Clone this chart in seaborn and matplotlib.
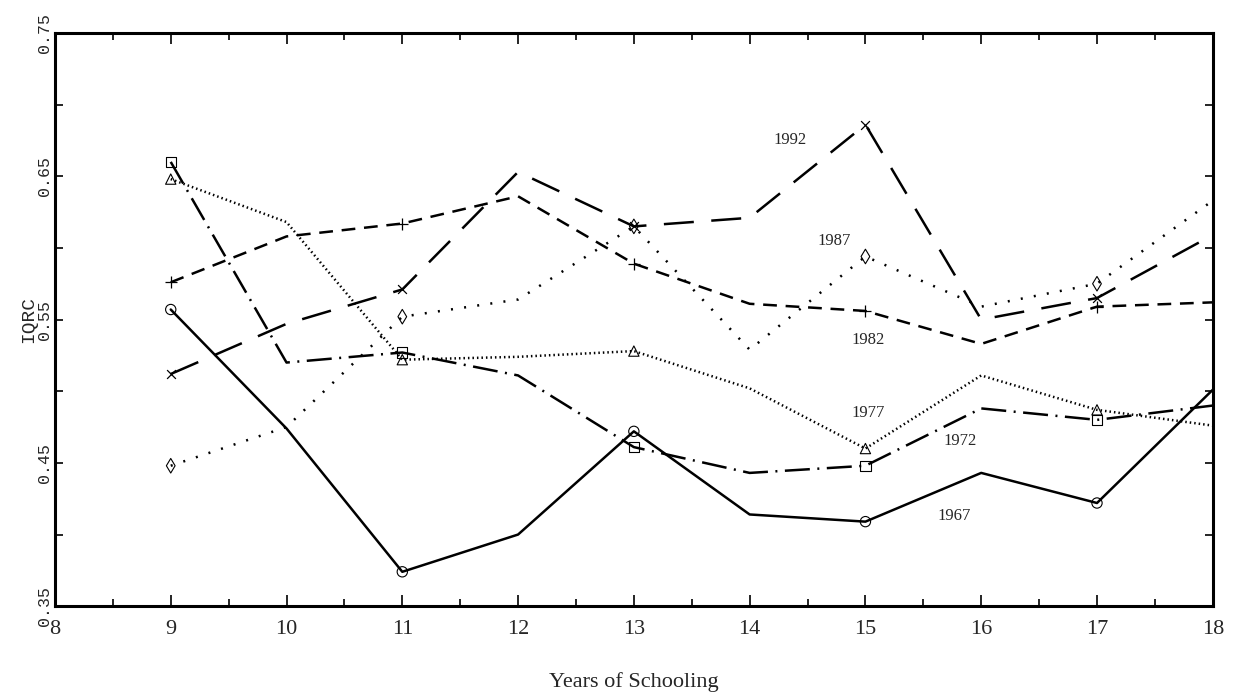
import numpy as np
import pandas as pd
import matplotlib
matplotlib.use("Agg")
import matplotlib.pyplot as plt
import seaborn as sns

# datos
years = [9, 10, 11, 12, 13, 14, 15, 16, 17, 18]
iqrc_1967 = [0.557, 0.474, 0.374, 0.400, 0.472, 0.414, 0.409, 0.443, 0.422, 0.501]
iqrc_1972 = [0.660, 0.520, 0.527, 0.511, 0.461, 0.443, 0.448, 0.488, 0.480, 0.490]
iqrc_1977 = [0.648, 0.618, 0.522, 0.524, 0.528, 0.502, 0.460, 0.511, 0.487, 0.476]
iqrc_1982 = [0.576, 0.608, 0.617, 0.636, 0.589, 0.561, 0.556, 0.533, 0.559, 0.562]
iqrc_1987 = [0.448, 0.475, 0.552, 0.564, 0.615, 0.529, 0.594, 0.559, 0.575, 0.633]
iqrc_1992 = [0.512, 0.547, 0.571, 0.653, 0.615, 0.621, 0.686, 0.550, 0.565, 0.609]

cohorts = ['1967', '1972', '1977', '1982', '1987', '1992']
series = [iqrc_1967, iqrc_1972, iqrc_1977, iqrc_1982, iqrc_1987, iqrc_1992]

# etiquetas dentro del grafico (x, y en datos)
label_pos = {'1992': (14.35, 0.675), '1987': (14.73, 0.605), '1982': (15.02, 0.536),
             '1977': (15.02, 0.485), '1972': (15.82, 0.465), '1967': (15.77, 0.413)}

rows = []
for c, vals in zip(cohorts, series):
    for x, v in zip(years, vals):
        rows.append({'years': x, 'iqrc': v, 'cohort': c})
df = pd.DataFrame(rows)

sns.set_style('ticks')
serif = ['DejaVu Serif Condensed', 'Liberation Serif', 'DejaVu Serif']
mono = ['Liberation Mono', 'DejaVu Sans Mono']

fig = plt.figure(figsize=(12.35, 7), dpi=100)
ax = fig.add_axes([0.0445, 0.134, 0.9375, 0.819])

dash_map = {'1967': '', '1972': (10, 3, 0.8, 3), '1977': (0.6, 1.2),
            '1982': (5.5, 3.5), '1987': (0.8, 4.5), '1992': (12, 7)}
sns.lineplot(data=df, x='years', y='iqrc', style='cohort', dashes=dash_map,
             color='black', linewidth=1.8, legend=False, ax=ax)

# marcadores solo en los años impares
marker_map = {'1967': 'o', '1972': 's', '1977': '^', '1982': '+', '1987': 'd', '1992': 'x'}
odd = df[df['years'] % 2 == 1]
for c in cohorts:
    sub = odd[odd['cohort'] == c]
    m = marker_map[c]
    if m in ('+', 'x'):
        sns.scatterplot(data=sub, x='years', y='iqrc', marker=m, s=70 if m == '+' else 40,
                        color='black', linewidth=0.9, legend=False, ax=ax, zorder=3)
    else:
        sns.scatterplot(data=sub, x='years', y='iqrc', marker=m, s=55,
                        color='black', facecolor='none', edgecolor='black',
                        linewidth=0.8, legend=False, ax=ax, zorder=3)

for c, (lx, ly) in label_pos.items():
    ax.text(lx, ly, c, fontsize=12, family=serif, ha='center', va='center')

ax.set_xlim(8, 18)
ax.set_ylim(0.35, 0.75)
ax.set_xticks(range(8, 19))
ax.set_xticks(np.arange(8.5, 18, 1), minor=True)
ax.set_yticks([0.35, 0.45, 0.55, 0.65, 0.75])
ax.set_yticks([0.40, 0.50, 0.60, 0.70], minor=True)
ax.set_yticklabels(['0.35', '0.45', '0.55', '0.65', '0.75'], rotation=90,
                   va='center', family=mono, fontsize=12)
for t in ax.get_xticklabels():
    t.set_family(serif)
    t.set_fontsize(16)

ax.tick_params(axis='both', which='both', direction='in', top=True, right=True,
               width=1.2, color='black')
ax.tick_params(axis='x', which='major', length=8, pad=10)
ax.tick_params(axis='x', which='minor', length=5)
ax.tick_params(axis='y', which='major', length=6, pad=2)
ax.tick_params(axis='y', which='minor', length=6)

for sp in ax.spines.values():
    sp.set_linewidth(2.2)
    sp.set_color('black')

ax.set_xlabel('Years of Schooling', fontsize=16, family=serif, labelpad=24)
ax.set_ylabel('IQRC', fontsize=14, family=mono)
ax.yaxis.set_label_coords(-0.0155, 0.5)

fig.savefig('out.png', dpi=100)
